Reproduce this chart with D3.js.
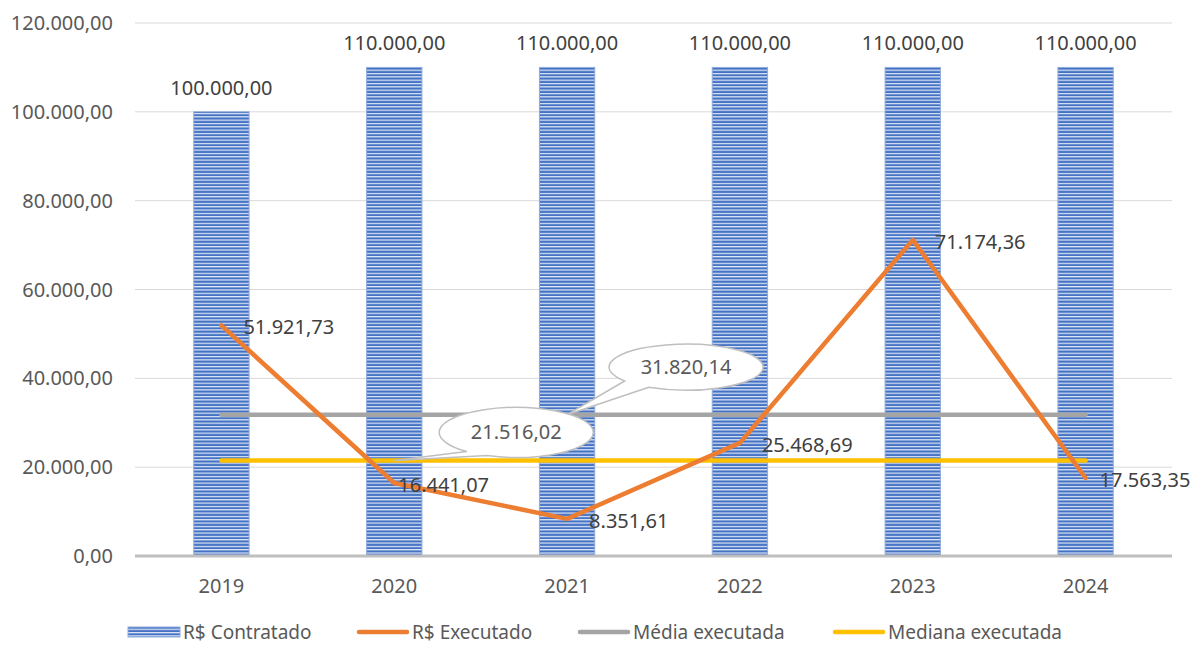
<!DOCTYPE html>
<html>
<head>
<meta charset="utf-8">
<script src="https://cdn.jsdelivr.net/npm/d3@7"></script>
<style>
  body { margin: 0; background: #fff; }
  text { font-family: "Noto Sans", sans-serif; }
</style>
</head>
<body>
<svg id="chart" width="1194" height="645"></svg>
<script>
const years = ["2019", "2020", "2021", "2022", "2023", "2024"];
const contratado = [100000, 110000, 110000, 110000, 110000, 110000];
const executado = [51921.73, 16441.07, 8351.61, 25468.69, 71174.36, 17563.35];
const media = 31820.14;
const mediana = 21516.02;
const yTicks = [0, 20000, 40000, 60000, 80000, 100000, 120000];
const legendLabels = ["R$ Contratado", "R$ Executado", "Média executada", "Mediana executada"];

// label nudges (px) for the orange line labels
const execLabelDx = [22, 4, 22, 22, 22, 14];

const BLUE = "#4472C4", ORANGE = "#ED7D31", GREY = "#A5A5A5", YELLOW = "#FFC000";
const TXT = "#595959";

const fmt = v => {
  const s = v.toFixed(2).split(".");
  return s[0].replace(/\B(?=(\d{3})+(?!\d))/g, ".") + "," + s[1];
};

const svg = d3.select("#chart");
const margin = { top: 23, right: 22, bottom: 89, left: 135 };
const width = 1194 - margin.left - margin.right;
const height = 645 - margin.top - margin.bottom;

// striped bar fill
const defs = svg.append("defs");
const pat = defs.append("pattern")
  .attr("id", "stripes")
  .attr("patternUnits", "userSpaceOnUse")
  .attr("width", 10).attr("height", 3.33);
pat.append("rect").attr("width", 10).attr("height", 3.33).attr("fill", BLUE);
pat.append("rect").attr("width", 10).attr("height", 1.2).attr("fill", "#e3eaf7");

const g = svg.append("g").attr("transform", `translate(${margin.left},${margin.top})`);

const x = d3.scaleBand().domain(years).range([0, width]).paddingInner(0.68).paddingOuter(0.34);
const y = d3.scaleLinear().domain([0, 120000]).range([height, 0]);
const cx = d => x(d) + x.bandwidth() / 2;

// gridlines
g.append("g").selectAll("line")
  .data(yTicks.slice(1))
  .enter().append("line")
  .attr("x1", 0).attr("x2", width)
  .attr("y1", d => y(d)).attr("y2", d => y(d))
  .attr("stroke", "#d9d9d9").attr("stroke-width", 1);

// y labels
g.append("g").selectAll("text")
  .data(yTicks)
  .enter().append("text")
  .attr("x", -22).attr("y", d => y(d))
  .attr("dy", "0.35em")
  .attr("text-anchor", "end")
  .attr("font-size", 20).attr("fill", TXT)
  .text(fmt);

// bars
g.append("g").selectAll("rect")
  .data(contratado)
  .enter().append("rect")
  .attr("x", (d, i) => x(years[i]))
  .attr("y", d => y(d))
  .attr("width", x.bandwidth())
  .attr("height", d => height - y(d))
  .attr("fill", "url(#stripes)")
  .attr("stroke", "#8faadc").attr("stroke-width", 1);

g.append("g").selectAll("text")
  .data(contratado)
  .enter().append("text")
  .attr("x", (d, i) => cx(years[i]))
  .attr("y", d => y(d) - 24)
  .attr("dy", "0.35em")
  .attr("text-anchor", "middle")
  .attr("font-size", 20).attr("fill", "#404040")
  .text(fmt);

// x axis
g.append("line")
  .attr("x1", 0).attr("x2", width)
  .attr("y1", height).attr("y2", height)
  .attr("stroke", "#bfbfbf").attr("stroke-width", 3);

g.append("g").selectAll("text")
  .data(years)
  .enter().append("text")
  .attr("x", d => cx(d))
  .attr("y", height + 30)
  .attr("dy", "0.35em")
  .attr("text-anchor", "middle")
  .attr("font-size", 20).attr("fill", TXT)
  .text(d => d);

// mean & median lines
[[media, GREY], [mediana, YELLOW]].forEach(([v, c]) => {
  g.append("line")
    .attr("x1", cx(years[0])).attr("x2", cx(years[years.length - 1]))
    .attr("y1", y(v)).attr("y2", y(v))
    .attr("stroke", c).attr("stroke-width", 4.5).attr("stroke-linecap", "round");
});

// executed line
const line = d3.line().x((d, i) => cx(years[i])).y(d => y(d));
g.append("path")
  .datum(executado)
  .attr("d", line)
  .attr("fill", "none")
  .attr("stroke", ORANGE).attr("stroke-width", 4.5)
  .attr("stroke-linecap", "round").attr("stroke-linejoin", "round");

g.append("g").selectAll("text")
  .data(executado)
  .enter().append("text")
  .attr("x", (d, i) => cx(years[i]) + execLabelDx[i])
  .attr("y", d => y(d) + 2)
  .attr("dy", "0.35em")
  .attr("font-size", 20).attr("fill", "#404040")
  .text(fmt);

// callouts
function callout(tipX, tipY, ecx, ecy, rx, ry, t1, t2, label) {
  const p = t => [ecx + rx * Math.cos(t * Math.PI / 180), ecy + ry * Math.sin(t * Math.PI / 180)];
  const a = p(t1), b = p(t2);
  const d = `M${a[0]},${a[1]} L${tipX},${tipY} L${b[0]},${b[1]} A${rx},${ry} 0 1 1 ${a[0]},${a[1]} Z`;
  g.append("path").attr("d", d)
    .attr("fill", "#fff").attr("stroke", "#bfbfbf").attr("stroke-width", 1.5);
  g.append("text")
    .attr("x", ecx).attr("y", ecy)
    .attr("dy", "0.35em").attr("text-anchor", "middle")
    .attr("font-size", 20).attr("fill", TXT)
    .text(label);
}
callout(cx("2021"), y(media), cx("2021") + 119, y(media) - 47.5, 77, 23, 119, 143, fmt(media));
callout(cx("2020"), y(mediana), cx("2020") + 122, y(mediana) - 28, 77, 25, 112, 130, fmt(mediana));

// legend
const leg = svg.append("g").attr("transform", "translate(0,632)");
const legX = [128, 357, 578, 833];
leg.append("rect").attr("x", legX[0]).attr("y", -5).attr("width", 52).attr("height", 10)
  .attr("fill", "url(#stripes)").attr("stroke", "#8faadc");
[ORANGE, GREY, YELLOW].forEach((c, i) => {
  leg.append("line")
    .attr("x1", legX[i + 1] + 2).attr("x2", legX[i + 1] + 50)
    .attr("y1", 0).attr("y2", 0)
    .attr("stroke", c).attr("stroke-width", 4.5).attr("stroke-linecap", "round");
});
leg.selectAll("text.l")
  .data(legendLabels)
  .enter().append("text")
  .attr("x", (d, i) => legX[i] + 55)
  .attr("y", 0).attr("dy", "0.35em")
  .attr("font-size", 19).attr("fill", TXT)
  .text(d => d);
</script>
</body>
</html>
